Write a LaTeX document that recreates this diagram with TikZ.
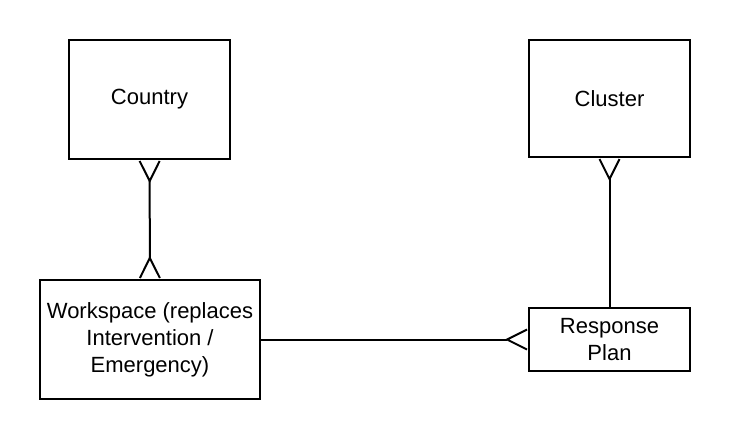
\documentclass[tikz,border=0pt]{standalone}
\usepackage{fontspec}
\setmainfont{Liberation Sans}
\usetikzlibrary{arrows.meta}

\begin{document}
\begin{tikzpicture}[x=1pt, y=-1pt,
    entity/.style={shape=rectangle, draw=black, line width=2pt, align=center,
      font=\fontsize{22}{27}\selectfont, inner sep=0pt},
    link/.style={draw=black, line width=2pt},
    many/.tip={Straight Barb[reversed, length=20pt, width=20pt]}]
      \useasboundingbox (0,0) rectangle (730,440);

      \node[entity, minimum width=161pt, minimum height=119pt] (country) at (149.5,99.5) {Country};
      \node[entity, minimum width=161pt, minimum height=117pt] (cluster) at (609.5,98.5) {Cluster};
      \node[entity, minimum width=220pt, minimum height=119pt] (workspace) at (150,339.5) {Workspace (replaces\\Intervention /\\Emergency)};
      \node[entity, minimum width=161pt, minimum height=63pt] (plan) at (609.5,339.5) {Response\\Plan};

      \draw [link, many-many] (country) -- (workspace);
      \draw [link, many-] (cluster) -- (plan);
      \draw [link, -many] (workspace) -- (plan);
    \end{tikzpicture}
\end{document}
